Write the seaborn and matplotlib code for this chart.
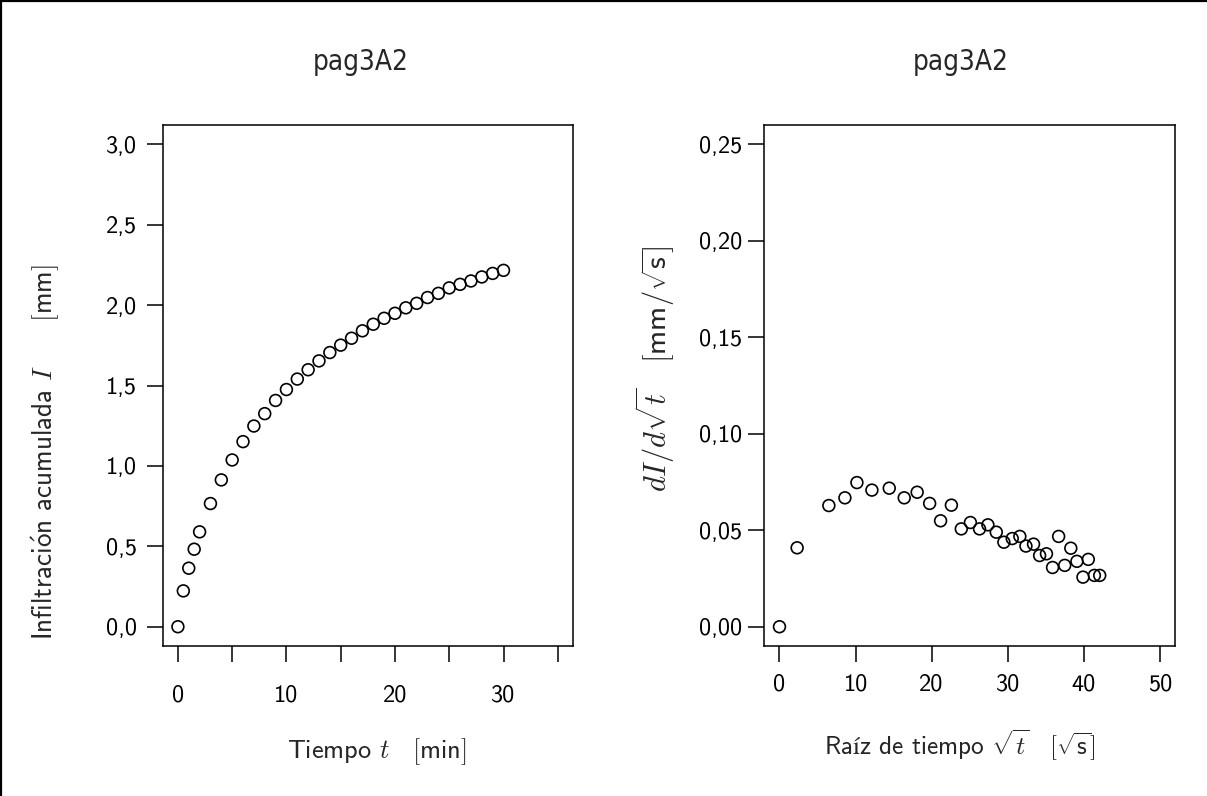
import matplotlib
matplotlib.use("Agg")
import matplotlib.pyplot as plt
import seaborn as sns
import pandas as pd
from matplotlib.lines import Line2D
from matplotlib.ticker import FixedLocator

# ---------------- data ----------------
time_min = [0, 0.5, 1, 1.5, 2, 3, 4, 5, 6, 7, 8, 9, 10, 11, 12, 13, 14, 15,
            16, 17, 18, 19, 20, 21, 22, 23, 24, 25, 26, 27, 28, 29, 30]
infil_mm = [0.000, 0.223, 0.364, 0.482, 0.590, 0.766, 0.913, 1.037, 1.151,
            1.248, 1.325, 1.407, 1.475, 1.540, 1.598, 1.653, 1.705, 1.751,
            1.794, 1.840, 1.881, 1.918, 1.949, 1.983, 2.011, 2.047, 2.073,
            2.107, 2.129, 2.150, 2.175, 2.197, 2.216]

sqrt_t = [0.0, 2.32, 6.49, 8.6, 10.18, 12.15, 14.43, 16.4, 18.1, 19.74,
          21.18, 22.6, 23.9, 25.1, 26.3, 27.4, 28.5, 29.5, 30.6, 31.6, 32.4,
          33.4, 34.2, 35.1, 35.9, 36.7, 37.5, 38.3, 39.1, 39.9, 40.6, 41.4,
          42.1]
dI_dsqrt = [0.0, 0.0409, 0.0628, 0.0668, 0.0747, 0.0708, 0.0718, 0.0668,
            0.0697, 0.0639, 0.0549, 0.0630, 0.0507, 0.0540, 0.0507, 0.0528,
            0.0490, 0.0438, 0.0457, 0.0468, 0.0418, 0.0428, 0.0369, 0.0378,
            0.0307, 0.0468, 0.0318, 0.0407, 0.0339, 0.0257, 0.0349, 0.0266,
            0.0266]

left_xticks = [0, 10, 20, 30]
left_xminor = [5, 15, 25, 35]
left_yticks = [0.0, 0.5, 1.0, 1.5, 2.0, 2.5, 3.0]
left_ylabels = ["0,0", "0,5", "1,0", "1,5", "2,0", "2,5", "3,0"]
right_xticks = [0, 10, 20, 30, 40, 50]
right_yticks = [0.0, 0.05, 0.10, 0.15, 0.20, 0.25]
right_ylabels = ["0,00", "0,05", "0,10", "0,15", "0,20", "0,25"]
title_text = "pag3A2"

df1 = pd.DataFrame({"t": time_min, "I": infil_mm})
df2 = pd.DataFrame({"s": sqrt_t, "d": dI_dsqrt})

# ---------------- style ----------------
sns.set_style("ticks")
plt.rcParams["font.family"] = ["cmss10", "DejaVu Sans"]
plt.rcParams["mathtext.fontset"] = "cm"
plt.rcParams["axes.unicode_minus"] = False

fig = plt.figure(figsize=(12.07, 7.96), dpi=100)
ax1 = fig.add_axes([0.1348, 0.1884, 0.3399, 0.6546])
ax2 = fig.add_axes([0.6332, 0.1884, 0.3403, 0.6546])

mk = dict(marker="o", s=72, facecolor="none", edgecolor="black",
          linewidth=1.2, legend=False)
sns.scatterplot(data=df1, x="t", y="I", ax=ax1, **mk)
sns.scatterplot(data=df2, x="s", y="d", ax=ax2, **mk)

FS = 17.5
LFS = 19
for ax in (ax1, ax2):
    for sp in ax.spines.values():
        sp.set_visible(True)
        sp.set_linewidth(1.1)
        sp.set_color("black")
    ax.tick_params(which="both", direction="out", length=11.5, width=1.1,
                   color="black", labelsize=FS, labelcolor="black")

# left axes
ax1.set_xlim(-1.4, 36.4)
ax1.set_ylim(-0.12, 3.12)
ax1.xaxis.set_major_locator(FixedLocator(left_xticks))
ax1.xaxis.set_minor_locator(FixedLocator(left_xminor))
ax1.set_xticklabels([str(v) for v in left_xticks])
ax1.set_yticks(left_yticks)
ax1.set_yticklabels(left_ylabels)
ax1.tick_params(axis="x", which="both", pad=16)
ax1.tick_params(axis="y", pad=7)

# right axes
ax2.set_xlim(-2, 52)
ax2.set_ylim(-0.01, 0.26)
ax2.set_xticks(right_xticks)
ax2.set_xticklabels([str(v) for v in right_xticks])
ax2.set_yticks(right_yticks)
ax2.set_yticklabels(right_ylabels)
ax2.tick_params(axis="x", pad=8)
ax2.tick_params(axis="y", pad=4.5)

# labels
ax1.set_xlabel(r"Tiempo $t\quad[\mathsf{min}]$", fontsize=LFS, va="center")
ax1.xaxis.set_label_coords(0.522, -0.2035)
ax1.set_ylabel(r"Infiltraci$\mathsf{\acute{o}}$n acumulada $I\qquad[\mathsf{mm}]$",
               fontsize=19.5, va="center")
ax1.yaxis.set_label_coords(-0.284, 0.372)

ax2.set_xlabel(r"Ra$\mathsf{í}$z de tiempo $\sqrt{t}\quad[\sqrt{\mathsf{s}}]$",
               fontsize=18.2, va="center")
ax2.xaxis.set_label_coords(0.477, -0.190)
ax2.set_ylabel(r"$dI/d\sqrt{t}\quad[\mathsf{mm}/\sqrt{\mathsf{s}}]$",
               fontsize=22, va="center")
ax2.yaxis.set_label_coords(-0.266, 0.532)

for ax, xc in ((ax1, 0.483), (ax2, 0.479)):
    t = ax.set_title(title_text, fontsize=20, y=1.105,
                     family="DejaVu Sans", fontstretch="condensed")
    t.set_x(xc)
    t.set_va("center")

# figure border (top and left visible)
fig.add_artist(Line2D([0, 1], [0.9985, 0.9985], transform=fig.transFigure,
                      color="black", linewidth=1.6))
fig.add_artist(Line2D([0.0012, 0.0012], [0, 1], transform=fig.transFigure,
                      color="black", linewidth=1.6))

fig.savefig("out.png", dpi=100)
